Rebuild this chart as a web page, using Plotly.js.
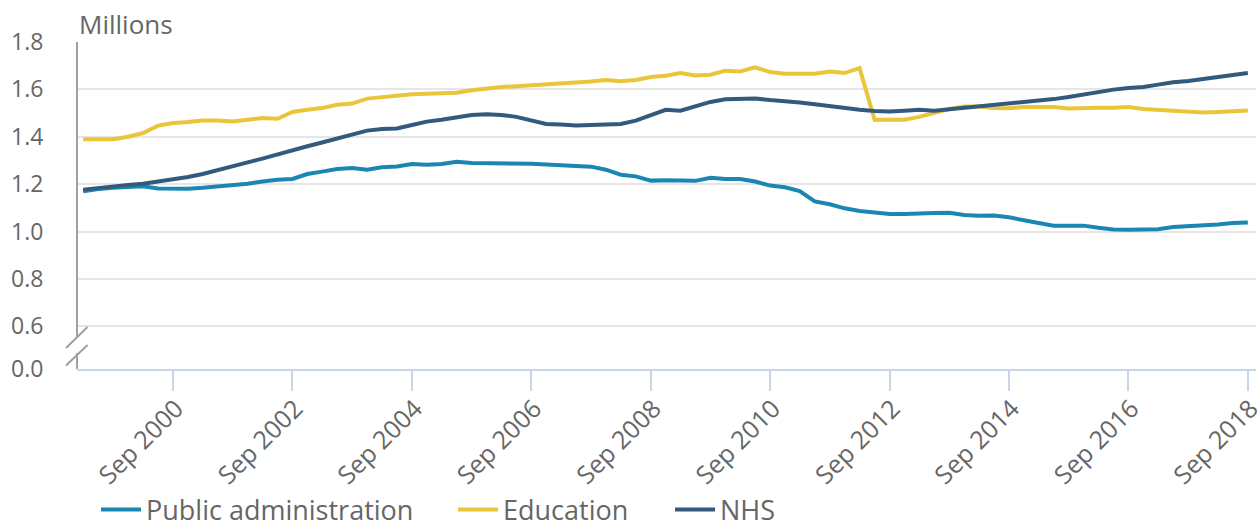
<!DOCTYPE html>
<html>
<head>
<meta charset="utf-8">
<script src="https://cdn.plot.ly/plotly-3.0.1.min.js"></script>
<style>
  html, body { margin: 0; padding: 0; background: #fff; }
  #chart { width: 1259px; height: 527px; }
</style>
</head>
<body>
<div id="chart"></div>
<script>
// Quarterly categories: Mar 1999 .. Sep 2018
const startYear = 1999;
const quarterMonths = ["03", "06", "09", "12"];
const quarters = [];
for (let y = startYear; y <= 2018; y++) {
  for (const m of quarterMonths) {
    if (y === 2018 && m === "12") continue;
    quarters.push(y + "-" + m + "-01");
  }
}

const publicAdmin = [
  1.17, 1.18, 1.185, 1.188,
  1.191, 1.182, 1.181, 1.181,
  1.185, 1.19, 1.194, 1.202,
  1.211, 1.219, 1.222, 1.243,
  1.253, 1.264, 1.268, 1.261,
  1.271, 1.275, 1.285, 1.282,
  1.285, 1.295, 1.289, 1.289,
  1.289, 1.288, 1.286, 1.283,
  1.279, 1.274, 1.274, 1.261,
  1.24, 1.233, 1.215, 1.217,
  1.215, 1.214, 1.227, 1.222,
  1.222, 1.211, 1.194, 1.187,
  1.171, 1.127, 1.115, 1.098,
  1.087, 1.081, 1.074, 1.074,
  1.078, 1.078, 1.079, 1.07,
  1.067, 1.068, 1.06, 1.05,
  1.036, 1.025, 1.024, 1.025,
  1.016, 1.009, 1.008, 1.008,
  1.01, 1.019, 1.022, 1.025,
  1.03, 1.036, 1.038
];

const education = [
  1.39, 1.39, 1.39, 1.40,
  1.416, 1.447, 1.458, 1.462,
  1.469, 1.469, 1.465, 1.472,
  1.479, 1.476, 1.505, 1.514,
  1.521, 1.535, 1.54, 1.561,
  1.568, 1.575, 1.579, 1.582,
  1.586, 1.586, 1.596, 1.604,
  1.61, 1.613, 1.617, 1.619,
  1.624, 1.627, 1.633, 1.64,
  1.634, 1.64, 1.652, 1.658,
  1.669, 1.659, 1.662, 1.679,
  1.676, 1.693, 1.673, 1.666,
  1.666, 1.666, 1.675, 1.669,
  1.69, 1.472, 1.472, 1.472,
  1.484, 1.50, 1.517, 1.528,
  1.528, 1.521, 1.52, 1.526,
  1.524, 1.526, 1.519, 1.522,
  1.522, 1.522, 1.526, 1.517,
  1.514, 1.512, 1.505, 1.503,
  1.505, 1.509, 1.511
];

const nhs = [
  1.177, 1.185, 1.191, 1.197,
  1.202, 1.211, 1.219, 1.23,
  1.243, 1.258, 1.275, 1.292,
  1.308, 1.324, 1.343, 1.36,
  1.376, 1.392, 1.409, 1.426,
  1.433, 1.435, 1.45, 1.464,
  1.472, 1.484, 1.492, 1.495,
  1.492, 1.484, 1.467, 1.454,
  1.452, 1.448, 1.45, 1.451,
  1.454, 1.468, 1.493, 1.514,
  1.51, 1.528, 1.547, 1.558,
  1.562, 1.562, 1.555, 1.551,
  1.545, 1.537, 1.528, 1.521,
  1.514, 1.509, 1.507, 1.51,
  1.514, 1.51, 1.516, 1.521,
  1.528, 1.535, 1.541, 1.545,
  1.554, 1.559, 1.568, 1.579,
  1.589, 1.599, 1.606, 1.61,
  1.62, 1.63, 1.635, 1.644,
  1.651, 1.658, 1.669
];

const seriesNames = ["Public administration", "Education", "NHS"];
const seriesColors = ["#1a87b3", "#e9c53a", "#33597d"];

const xTickVals = ["2000-09-01","2002-09-01","2004-09-01","2006-09-01","2008-09-01",
                   "2010-09-01","2012-09-01","2014-09-01","2016-09-01","2018-09-01"];
const xTickText = ["Sep 2000","Sep 2002","Sep 2004","Sep 2006","Sep 2008",
                   "Sep 2010","Sep 2012","Sep 2014","Sep 2016","Sep 2018"];

// Broken y-axis: the "0.0" label sits at the bottom of the compressed break
const yBottom = 0.42;
const yTickVals = [yBottom, 0.6, 0.8, 1.0, 1.2, 1.4, 1.6, 1.8];
const yTickText = ["0.0", "0.6", "0.8", "1.0", "1.2", "1.4", "1.6", "1.8"];

const legendIds = ["legend", "legend2", "legend3"];
const allSeries = [publicAdmin, education, nhs];
const traces = allSeries.map((vals, i) => ({
  type: "scatter",
  mode: "lines",
  x: quarters,
  y: vals,
  name: seriesNames[i],
  legend: legendIds[i],
  line: { color: seriesColors[i], width: 4 }
}));

const axisGrey = "#a0a0a0";
const textGrey = "#666666";
const plotH = 527 - 42 - 158;

function legendAt(xPx) {
  return {
    orientation: "h",
    xref: "container",
    yref: "container",
    x: xPx / 1259,
    xanchor: "left",
    y: 17 / 527,
    yanchor: "middle",
    bgcolor: "rgba(0,0,0,0)",
    font: { size: 27, color: textGrey },
    itemwidth: 40
  };
}

const layout = {
  width: 1259,
  height: 527,
  margin: { l: 77, r: 3, t: 42, b: 158 },
  paper_bgcolor: "#ffffff",
  plot_bgcolor: "#ffffff",
  font: { family: "Open Sans, sans-serif", color: textGrey, size: 20 },
  showlegend: true,
  legend: legendAt(96),
  legend2: legendAt(453),
  legend3: legendAt(670),
  xaxis: {
    type: "date",
    automargin: false,
    range: ["1999-01-22", "2018-10-21"],
    tickmode: "array",
    tickvals: xTickVals,
    ticktext: xTickText,
    tickangle: -45,
    ticklabeloverflow: "allow",
    ticklabelstandoff: -7,
    ticklabelshift: 3,
    tickfont: { size: 25, color: textGrey },
    ticks: "outside",
    ticklen: 20,
    tickwidth: 2,
    tickcolor: "#c9d5ea",
    showline: true,
    linecolor: "#c9d5ea",
    linewidth: 2,
    showgrid: false,
    zeroline: false,
    fixedrange: true
  },
  yaxis: {
    automargin: false,
    range: [yBottom, 1.8],
    tickmode: "array",
    tickvals: yTickVals,
    ticktext: yTickText,
    tickfont: { size: 23, color: textGrey },
    ticks: "outside",
    ticklen: 28,
    tickcolor: "rgba(0,0,0,0)",
    showline: false,
    showgrid: true,
    gridcolor: "#e6e6e6",
    gridwidth: 2,
    zeroline: false,
    fixedrange: true
  },
  annotations: [{
    text: "Millions",
    xref: "paper", yref: "paper",
    x: 0, y: 1,
    xanchor: "left", yanchor: "bottom",
    xshift: 0, yshift: -2,
    showarrow: false,
    font: { size: 26, color: textGrey }
  }],
  shapes: [
    // upper y-axis segment
    { type: "line", xref: "paper", yref: "paper", x0: 0, x1: 0,
      y0: 32 / plotH, y1: 1, line: { color: axisGrey, width: 2 }, layer: "above" },
    // lower y-axis segment
    { type: "line", xref: "paper", yref: "paper", xsizemode: "pixel", xanchor: 0,
      ysizemode: "pixel", yanchor: 0,
      x0: 0, x1: 0, y0: 0, y1: 16, line: { color: axisGrey, width: 2 }, layer: "above" },
    // break slashes
    { type: "line", xref: "paper", yref: "paper", xsizemode: "pixel", xanchor: 0,
      ysizemode: "pixel", yanchor: 0,
      x0: -11, x1: 10.5, y0: 21, y1: 42, line: { color: axisGrey, width: 2 }, layer: "above" },
    { type: "line", xref: "paper", yref: "paper", xsizemode: "pixel", xanchor: 0,
      ysizemode: "pixel", yanchor: 0,
      x0: -11, x1: 10.5, y0: 3.5, y1: 24, line: { color: axisGrey, width: 2 }, layer: "above" }
  ]
};

Plotly.newPlot("chart", traces, layout, { displayModeBar: false, staticPlot: true });
</script>
</body>
</html>
